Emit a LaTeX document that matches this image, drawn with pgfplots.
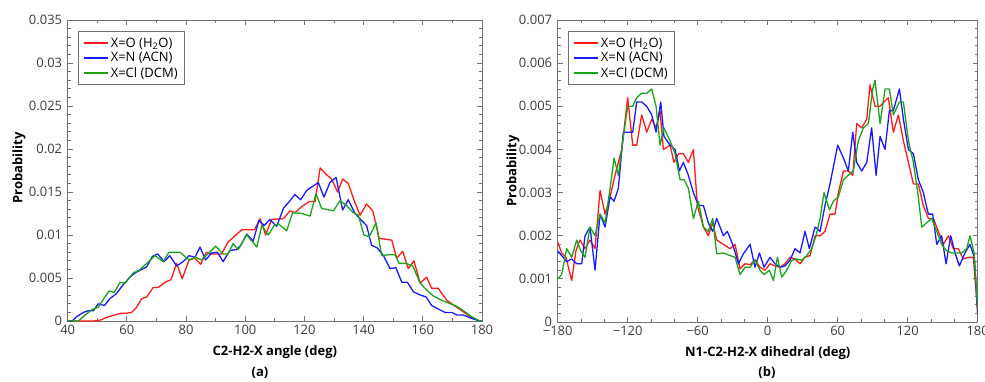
\documentclass[border=0pt]{standalone}
\usepackage{fontspec}
\setmainfont{Open Sans}
\usepackage{pgfplots}
\pgfplotsset{compat=1.18}
\definecolor{myred}{RGB}{255,25,25}
\definecolor{myblue}{RGB}{25,25,255}
\definecolor{mygreen}{RGB}{25,165,25}
\definecolor{framegray}{RGB}{115,115,115}
\definecolor{ticklab}{RGB}{60,60,60}
\pgfplotsset{mystyle/.style={
  scale only axis,
  anchor=south west,
  axis line style={framegray, line width=0.9pt},
  every tick/.style={framegray, line width=0.8pt},
  major tick length=5pt, minor tick length=3pt,
  tick align=inside,
  scaled y ticks=false, scaled x ticks=false,
  tick label style={font=\fontsize{13}{15}\selectfont, text=ticklab},
  yticklabel style={xshift=-2pt},
  xticklabel style={yshift=-1pt},
  label style={font=\bfseries\fontsize{13}{15}\selectfont},
  legend style={at={(0.024,0.963)}, anchor=north west, draw=framegray, line width=0.9pt,
    font=\fontsize{13}{15}\selectfont, inner xsep=5pt, inner ysep=4pt, row sep=0pt, cells={anchor=west}},
  legend image code/.code={\draw[#1, line width=1.7pt] (0pt,0pt) -- (24pt,0pt);},
  every axis plot/.append style={line width=1.3pt, line join=round},
}}
\begin{document}
\begin{tikzpicture}
\path[use as bounding box] (0,0) rectangle (985pt,381pt);
\begin{axis}[mystyle, at={(67.7pt,60pt)}, width=414.3pt, height=301pt,
  xmin=40, xmax=180, ymin=0, ymax=0.035,
  xtick={40,60,...,180}, xticklabels={40,60,80,100,120,140,160,180}, minor x tick num=1,
  ytick={0,0.005,0.01,0.015,0.02,0.025,0.03,0.035},
  yticklabels={0,0.005,0.01,0.015,0.02,0.025,0.03,0.035},
  minor y tick num=4,
  xlabel={C2-H2-X angle (deg)}, ylabel={Probability},
  xlabel style={at={(axis description cs:0.5,-0.103)}, anchor=center},
  ylabel style={at={(axis description cs:-0.1176,0.508)}, anchor=center, rotate=0},
]
\addplot[myred] coordinates {(40,0)(47,0)(49,0)(51,0.0001)(53.7,0.0005)(55,0.0006)(57.9,0.0009)(59.5,0.0009)(61.6,0.0010)(63.3,0.0016)(65,0.0026)(66.7,0.0028)(68.9,0.0039)(70.6,0.0039)(72.9,0.0045)(74.9,0.0048)(76.8,0.0067)(78.7,0.0049)(81,0.0071)(83,0.0073)(84.9,0.0066)(86.9,0.0080)(88.6,0.0078)(92,0.0078)(94.2,0.0092)(96.5,0.0099)(98.8,0.0106)(103.1,0.0106)(105,0.0119)(106.9,0.0100)(108.9,0.0118)(112.9,0.0119)(115.1,0.0128)(116.8,0.0126)(119.1,0.0133)(121.6,0.0139)(123.6,0.0139)(125.3,0.0178)(127.5,0.0170)(129.2,0.0165)(131.2,0.0150)(132.9,0.0165)(134.8,0.0160)(136.8,0.0140)(138.8,0.0123)(141,0.0136)(143.1,0.0128)(145.3,0.0096)(147.6,0.0095)(149.5,0.0094)(151.2,0.0073)(153.2,0.0081)(155.1,0.0061)(157,0.0070)(159.1,0.0044)(161.3,0.0051)(163,0.0038)(165.2,0.0038)(168.1,0.0024)(171.5,0.0016)(174.8,0.0008)(177,0.0003)(179.3,0)(180,0)};
\addlegendentry{X=O (H\textsubscript{2}O)}
\addplot[myblue] coordinates {(40,0)(41.5,0)(43,0.0005)(45.3,0.0010)(47,0.0012)(48.7,0.0012)(50.3,0.0020)(52.4,0.0018)(54.3,0.0026)(56.5,0.0032)(58.7,0.0042)(61,0.0051)(63.3,0.0057)(66.7,0.0063)(68.6,0.0075)(70.4,0.0078)(72.6,0.0069)(74.5,0.0076)(76.8,0.0064)(79,0.0069)(81,0.0076)(83,0.0074)(84.7,0.0086)(86.6,0.0071)(88.6,0.0079)(90.6,0.0080)(92.5,0.0069)(94.8,0.0082)(97,0.0083)(98.5,0.0088)(100.5,0.0101)(102.7,0.0093)(104.6,0.0117)(106.4,0.0111)(108.3,0.0118)(110.6,0.0110)(112.9,0.0131)(114.9,0.0139)(116.8,0.0147)(118.7,0.0141)(120.8,0.0152)(124.7,0.0161)(126.6,0.0144)(128.6,0.0161)(130.7,0.0167)(132.9,0.0129)(134.8,0.0141)(137.1,0.0125)(139,0.0118)(141,0.0111)(142.7,0.0088)(144.6,0.0085)(146.7,0.0076)(148.9,0.0061)(150.9,0.0062)(152.9,0.0045)(154.8,0.0045)(156.8,0.0034)(159.3,0.0030)(161.1,0.0028)(163,0.0018)(165.2,0.0014)(167.5,0.0010)(169.8,0.0010)(171.5,0.0007)(173.7,0.0007)(176.5,0.0003)(179.3,0)(180,0)};
\addlegendentry{X=N (ACN)}
\addplot[mygreen] coordinates {(40,0)(43.6,0)(45.9,0.0007)(48.1,0.0013)(50.3,0.0016)(52,0.0025)(54,0.0035)(55.7,0.0033)(57.7,0.0045)(59.4,0.0044)(62.2,0.0056)(64.1,0.0059)(66.7,0.0067)(69.5,0.0076)(72.3,0.0069)(74.2,0.0080)(77.9,0.0080)(81,0.0071)(83.2,0.0074)(85.2,0.0071)(87.4,0.0078)(90,0.0087)(92.5,0.0078)(94.2,0.0078)(95.9,0.0090)(97.6,0.0083)(100.5,0.0100)(103.9,0.0086)(105.6,0.0111)(107.8,0.0100)(109.8,0.0111)(111.2,0.0113)(114,0.0105)(116,0.0126)(119.1,0.0125)(121.9,0.0122)(123.9,0.0148)(125.8,0.0131)(129.8,0.0128)(132,0.0140)(134.3,0.0134)(136.5,0.0126)(138.2,0.0123)(140.1,0.0100)(141.9,0.0098)(144.2,0.0114)(146.1,0.0076)(148.4,0.0077)(150.6,0.0077)(152,0.0067)(154.3,0.0067)(156.6,0.0064)(159.1,0.0044)(161.3,0.0036)(163.6,0.0029)(166.4,0.0024)(168.6,0.0021)(171.5,0.0017)(173.7,0.0012)(176.5,0.0005)(179.3,0)(180,0)};
\addlegendentry{X=Cl (DCM)}
\end{axis}
\begin{axis}[mystyle, at={(557.7pt,59pt)}, width=420pt, height=302pt,
  xmin=-180, xmax=180, ymin=0, ymax=0.007,
  xtick={-180,-120,-60,0,60,120,180},
  xticklabels={−180,−120,−60,0,60,120,180},
  minor x tick num=2,
  ytick={0,0.001,0.002,0.003,0.004,0.005,0.006,0.007},
  yticklabels={0,0.001,0.002,0.003,0.004,0.005,0.006,0.007},
  minor y tick num=4,
  xlabel={N1-C2-H2-X dihedral (deg)}, ylabel={Probability},
  xlabel style={at={(axis description cs:0.5,-0.103)}, anchor=center},
  ylabel style={at={(axis description cs:-0.1064,0.5)}, anchor=center, rotate=0},
]
\addplot[myred] coordinates {(-180,0.00185)(-176.6,0.0016)(-172.9,0.0015)(-168,0.00096)(-164.3,0.00166)(-160.9,0.0019)(-156.6,0.0017)(-152.3,0.0019)(-148,0.0017)(-143.7,0.00305)(-139.4,0.0025)(-135.1,0.0029)(-130.9,0.0034)(-125.1,0.0040)(-120,0.0052)(-115.7,0.0041)(-112.3,0.0041)(-108,0.0048)(-103.7,0.0044)(-99.4,0.0047)(-95.7,0.0045)(-92.3,0.0049)(-89.4,0.0040)(-83.7,0.0041)(-80.3,0.0037)(-76.3,0.0039)(-72.3,0.0039)(-68,0.0037)(-63.7,0.0040)(-60.3,0.0027)(-55.1,0.0022)(-50.9,0.0020)(-47.1,0.0023)(-43.7,0.0019)(-38,0.0018)(-32.3,0.0017)(-28,0.0018)(-23.7,0.00123)(-19.4,0.00135)(-15.1,0.00133)(-10.9,0.00144)(-6.6,0.00127)(-2.3,0.0012)(2,0.00135)(6.3,0.0013)(10.6,0.00127)(14.9,0.00135)(19.1,0.0015)(23.4,0.00146)(27.7,0.00135)(32,0.0015)(36.3,0.00154)(40.6,0.0020)(44.9,0.0020)(49.1,0.0021)(53.4,0.0025)(57.7,0.0025)(60.6,0.0030)(64.9,0.0035)(69.1,0.0035)(72.9,0.0034)(76.3,0.0046)(80.6,0.0045)(84.9,0.0047)(87.7,0.0055)(92,0.0050)(96.3,0.0050)(99.7,0.0051)(103.4,0.0052)(107.7,0.0044)(112,0.0048)(116.3,0.0042)(120.6,0.0037)(124.9,0.0032)(129.1,0.0032)(133.4,0.0027)(137.7,0.0024)(142,0.0024)(146.3,0.0021)(150.6,0.0018)(154.9,0.0020)(159.1,0.0017)(163.4,0.0017)(167.7,0.00146)(172,0.0015)(176.3,0.0015)(180,0.0002)};
\addlegendentry{X=O (H\textsubscript{2}O)}
\addplot[myblue] coordinates {(-180,0.00165)(-176.6,0.00154)(-172.3,0.0014)(-168,0.00146)(-163.7,0.00135)(-159.4,0.00135)(-156.6,0.0020)(-152.3,0.0022)(-148,0.0012)(-143.7,0.0025)(-139.4,0.0022)(-135.1,0.0029)(-131.7,0.0028)(-128,0.0031)(-123.7,0.0044)(-119.4,0.0044)(-115.7,0.0044)(-112.3,0.0051)(-108,0.0051)(-103.7,0.0050)(-99.4,0.0048)(-95.7,0.0044)(-91.7,0.0051)(-88.9,0.0043)(-83.7,0.0041)(-79.4,0.0040)(-75.7,0.0035)(-72.3,0.0037)(-68,0.0034)(-63.7,0.0030)(-59.4,0.0027)(-55.1,0.0027)(-50.9,0.0023)(-47.1,0.0021)(-43.7,0.0024)(-38,0.0020)(-34.6,0.0021)(-30,0.0018)(-25.1,0.00135)(-20.9,0.00158)(-15.1,0.0018)(-10.9,0.00127)(-7.1,0.0016)(-3.1,0.00127)(2,0.0015)(6.3,0.00135)(10.6,0.00127)(14.9,0.0013)(19.1,0.00143)(23.4,0.0017)(27.7,0.0016)(32,0.0021)(35.7,0.0017)(40.6,0.0022)(44.9,0.0021)(49.1,0.0027)(53.4,0.0032)(60,0.0041)(64.9,0.0038)(69.1,0.0035)(72.9,0.0044)(76.3,0.0037)(80.6,0.0035)(84.9,0.0037)(89.1,0.0045)(92.9,0.0034)(96.3,0.0043)(100.6,0.0040)(104.3,0.0049)(107.7,0.0049)(112.9,0.0054)(116.3,0.0047)(120.6,0.0040)(124.9,0.0039)(129.1,0.0033)(133.4,0.0030)(137.7,0.0025)(141.4,0.0025)(144.9,0.0018)(149.1,0.0020)(152.9,0.00135)(156.9,0.0020)(160.6,0.0016)(164.3,0.0013)(169.1,0.0016)(173.4,0.0018)(177.1,0.0015)(180,0.0002)};
\addlegendentry{X=N (ACN)}
\addplot[mygreen] coordinates {(-180,0.0010)(-176.6,0.0011)(-172.3,0.0017)(-168,0.0015)(-163.7,0.0019)(-160.3,0.00165)(-156.6,0.0015)(-152.3,0.0022)(-148,0.0020)(-143.7,0.0025)(-139.4,0.0023)(-135.1,0.0031)(-131.7,0.0038)(-128,0.0034)(-123.7,0.0043)(-120,0.0050)(-115.7,0.0050)(-112.3,0.0052)(-108,0.0053)(-103.7,0.0053)(-99.4,0.0054)(-95.7,0.0050)(-92.3,0.0041)(-88.9,0.0045)(-83.7,0.0042)(-79.4,0.0039)(-75.1,0.0033)(-71.7,0.0033)(-68,0.0031)(-63.7,0.0024)(-59.4,0.0028)(-55.1,0.0022)(-50.9,0.0021)(-47.1,0.0024)(-43.7,0.00158)(-38,0.0016)(-32.3,0.00154)(-28,0.0015)(-23.7,0.0011)(-19.4,0.00127)(-15.1,0.00127)(-10.9,0.00144)(-6.6,0.0012)(-3.1,0.0011)(1.4,0.0012)(4.9,0.00096)(8.3,0.0015)(12,0.00104)(16.3,0.0012)(20.6,0.00143)(24.9,0.00146)(29.1,0.00143)(33.4,0.00154)(37.7,0.0017)(41.4,0.0020)(44.9,0.0024)(48.3,0.0030)(52.9,0.0026)(56.3,0.0028)(60.6,0.0029)(64.9,0.0033)(69.1,0.0034)(73.4,0.0035)(77.7,0.0042)(82,0.0045)(86.3,0.0046)(90,0.0054)(92,0.0056)(96.3,0.0046)(100.6,0.0054)(104.3,0.0054)(107.7,0.0048)(112.9,0.0051)(116.3,0.0051)(120.6,0.0042)(124.9,0.0037)(129.1,0.0029)(132,0.0022)(136.3,0.0023)(140.6,0.0024)(144.9,0.0021)(149.1,0.0018)(153.4,0.00165)(157.7,0.0016)(162,0.0016)(166.3,0.0016)(170.6,0.0017)(173.4,0.0020)(176.9,0.0016)(180,0.0003)};
\addlegendentry{X=Cl (DCM)}
\end{axis}
\node[font=\bfseries\fontsize{13}{15}\selectfont] at (260pt,8pt) {(a)};
\node[font=\bfseries\fontsize{13}{15}\selectfont] at (767pt,8pt) {(b)};
\end{tikzpicture}
\end{document}
